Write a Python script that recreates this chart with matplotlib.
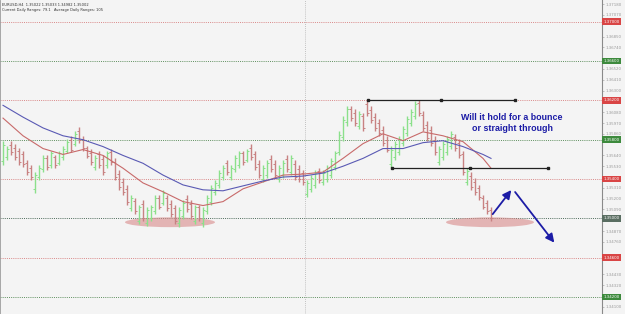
import numpy as np
import matplotlib.pyplot as plt
from matplotlib.patches import Ellipse
from matplotlib.transforms import blended_transform_factory

# ---------------------------------------------------------------------------
# OHLC bars (EURUSD)
highs = [1.3579, 1.3574, 1.3579, 1.3576, 1.3572, 1.3569, 1.3559, 1.3554, 1.3547, 1.3554,
         1.3564, 1.3564, 1.3569, 1.3564, 1.3569, 1.3574, 1.3581, 1.3584, 1.3589, 1.3593,
         1.3584, 1.3574, 1.3571, 1.3564, 1.3569, 1.3564, 1.3569, 1.3571, 1.3561, 1.3549,
         1.3541, 1.3534, 1.3524, 1.3521, 1.3514, 1.3519, 1.3511, 1.3514, 1.3524, 1.3524,
         1.3529, 1.3524, 1.3519, 1.3514, 1.3511, 1.3519, 1.3524, 1.3519, 1.3514, 1.3514,
         1.3511, 1.3524, 1.3534, 1.3539, 1.3549, 1.3554, 1.3559, 1.3554, 1.3564, 1.3569,
         1.3569, 1.3571, 1.3576, 1.3569, 1.3559, 1.3554, 1.3559, 1.3564, 1.3559, 1.3554,
         1.3559, 1.3564, 1.3564, 1.3559, 1.3554, 1.3549, 1.3539, 1.3544, 1.3549, 1.3551,
         1.3549, 1.3554, 1.3561, 1.3569, 1.3589, 1.3604, 1.3614, 1.3614, 1.3611, 1.3609,
         1.3607, 1.3620, 1.3614, 1.3607, 1.3601, 1.3594, 1.3584, 1.3574, 1.3579, 1.3584,
         1.3594, 1.3604, 1.3611, 1.3619, 1.3620, 1.3609, 1.3599, 1.3594, 1.3584, 1.3574,
         1.3579, 1.3584, 1.3589, 1.3586, 1.3581, 1.3569, 1.3551, 1.3547, 1.3541, 1.3534,
         1.3524, 1.3519, 1.3511]
lows = [1.3554, 1.3559, 1.3564, 1.3559, 1.3554, 1.3552, 1.3544, 1.3539, 1.3526, 1.3539,
        1.3547, 1.3549, 1.3551, 1.3551, 1.3554, 1.3559, 1.3566, 1.3567, 1.3574, 1.3577,
        1.3569, 1.3561, 1.3554, 1.3549, 1.3551, 1.3544, 1.3551, 1.3554, 1.3539, 1.3529,
        1.3524, 1.3514, 1.3507, 1.3504, 1.3494, 1.3497, 1.3492, 1.3497, 1.3504, 1.3509,
        1.3514, 1.3507, 1.3501, 1.3494, 1.3491, 1.3499, 1.3506, 1.3499, 1.3494, 1.3497,
        1.3491, 1.3504, 1.3514, 1.3524, 1.3531, 1.3539, 1.3544, 1.3539, 1.3547, 1.3551,
        1.3554, 1.3557, 1.3559, 1.3549, 1.3541, 1.3537, 1.3541, 1.3547, 1.3541, 1.3537,
        1.3541, 1.3547, 1.3544, 1.3539, 1.3537, 1.3534, 1.3522, 1.3527, 1.3531, 1.3536,
        1.3534, 1.3537, 1.3541, 1.3549, 1.3564, 1.3579, 1.3594, 1.3599, 1.3594, 1.3591,
        1.3589, 1.3604, 1.3597, 1.3589, 1.3584, 1.3574, 1.3567, 1.3551, 1.3559, 1.3564,
        1.3574, 1.3584, 1.3594, 1.3601, 1.3604, 1.3589, 1.3579, 1.3574, 1.3564, 1.3554,
        1.3559, 1.3564, 1.3571, 1.3569, 1.3561, 1.3544, 1.3534, 1.3529, 1.3524, 1.3519,
        1.3509, 1.3504, 1.3497]
opens = [1.3558, 1.3562, 1.3575, 1.3572, 1.3568, 1.3565, 1.3556, 1.3551, 1.3530, 1.3542,
         1.3550, 1.3561, 1.3554, 1.3562, 1.3556, 1.3562, 1.3569, 1.3580, 1.3576, 1.3589,
         1.3581, 1.3572, 1.3566, 1.3552, 1.3565, 1.3560, 1.3554, 1.3567, 1.3557, 1.3545,
         1.3537, 1.3530, 1.3510, 1.3518, 1.3497, 1.3515, 1.3495, 1.3500, 1.3507, 1.3521,
         1.3516, 1.3521, 1.3515, 1.3510, 1.3495, 1.3502, 1.3520, 1.3515, 1.3497, 1.3511,
         1.3495, 1.3507, 1.3517, 1.3527, 1.3534, 1.3542, 1.3556, 1.3542, 1.3550, 1.3554,
         1.3566, 1.3559, 1.3572, 1.3565, 1.3555, 1.3540, 1.3544, 1.3560, 1.3555, 1.3540,
         1.3544, 1.3560, 1.3547, 1.3555, 1.3550, 1.3546, 1.3525, 1.3530, 1.3534, 1.3548,
         1.3537, 1.3540, 1.3544, 1.3552, 1.3567, 1.3583, 1.3598, 1.3611, 1.3607, 1.3594,
         1.3604, 1.3616, 1.3610, 1.3603, 1.3597, 1.3590, 1.3580, 1.3555, 1.3562, 1.3567,
         1.3577, 1.3587, 1.3597, 1.3604, 1.3617, 1.3605, 1.3595, 1.3590, 1.3580, 1.3557,
         1.3562, 1.3567, 1.3574, 1.3583, 1.3577, 1.3565, 1.3537, 1.3543, 1.3537, 1.3531,
         1.3521, 1.3516, 1.3508]
closes = [1.3575, 1.3571, 1.3567, 1.3562, 1.3557, 1.3555, 1.3547, 1.3542, 1.3544, 1.3551,
          1.3561, 1.3552, 1.3566, 1.3554, 1.3566, 1.3571, 1.3578, 1.3570, 1.3586, 1.3580,
          1.3572, 1.3563, 1.3557, 1.3561, 1.3554, 1.3547, 1.3566, 1.3557, 1.3542, 1.3532,
          1.3527, 1.3517, 1.3521, 1.3507, 1.3511, 1.3500, 1.3508, 1.3511, 1.3521, 1.3512,
          1.3526, 1.3510, 1.3504, 1.3497, 1.3508, 1.3516, 1.3509, 1.3502, 1.3511, 1.3500,
          1.3508, 1.3521, 1.3531, 1.3536, 1.3546, 1.3551, 1.3547, 1.3551, 1.3561, 1.3566,
          1.3557, 1.3568, 1.3562, 1.3552, 1.3544, 1.3551, 1.3556, 1.3550, 1.3544, 1.3551,
          1.3556, 1.3550, 1.3561, 1.3542, 1.3540, 1.3537, 1.3536, 1.3541, 1.3546, 1.3539,
          1.3546, 1.3551, 1.3558, 1.3566, 1.3585, 1.3600, 1.3611, 1.3602, 1.3597, 1.3606,
          1.3592, 1.3607, 1.3600, 1.3592, 1.3587, 1.3577, 1.3570, 1.3570, 1.3576, 1.3581,
          1.3591, 1.3601, 1.3608, 1.3616, 1.3607, 1.3592, 1.3582, 1.3577, 1.3567, 1.3571,
          1.3576, 1.3581, 1.3586, 1.3572, 1.3564, 1.3547, 1.3548, 1.3532, 1.3527, 1.3522,
          1.3512, 1.3507, 1.3500]

# moving averages, sampled at bar indices
ma_idx = [0, 5, 10, 15, 20, 25, 30, 35, 40, 45, 50, 55, 60, 65, 70, 75, 80, 85, 90, 95,
          100, 105, 110, 115, 120, 122]
ma_fast = [1.3602, 1.3584, 1.3571, 1.3565, 1.3570, 1.3564, 1.3551, 1.3536, 1.3527, 1.3517,
           1.3513, 1.3517, 1.3530, 1.3537, 1.3544, 1.3545, 1.3547, 1.3561, 1.3576, 1.3586,
           1.3579, 1.3588, 1.3584, 1.3578, 1.3561, 1.3551]
ma_slow = [1.3615, 1.3603, 1.3592, 1.3584, 1.3580, 1.3573, 1.3564, 1.3556, 1.3544, 1.3534,
           1.3529, 1.3528, 1.3533, 1.3538, 1.3542, 1.3543, 1.3546, 1.3553, 1.3561, 1.3571,
           1.3571, 1.3577, 1.3579, 1.3573, 1.3565, 1.3561]

# horizontal levels
levels = [1.3700, 1.3660, 1.3620, 1.3580, 1.3540, 1.3500, 1.3460, 1.3420]
level_kind = ["r", "g", "r", "g", "r", "k", "r", "g"]

header = ["EURUSD,H4  1.35022 1.35033 1.34982 1.35002",
          "Current Daily Ranges: 79.1   Average Daily Ranges: 105"]
note = "Will it hold for a bounce\nor straight through"

# ---------------------------------------------------------------------------
BG = "#f4f4f4"
UP = "#8be08b"
DN = "#c88282"
LEVEL_LINE = {"r": "#d98888", "g": "#5e8f5e", "k": "#4d6b5a"}
LEVEL_BOX = {"r": "#d94545", "g": "#3d8a3d", "k": "#5a6e62"}
NAVY = "#1c1ca6"

fig = plt.figure(figsize=(6.25, 3.14), dpi=100, facecolor=BG)
ax = fig.add_axes([0.0, 0.0, 602 / 625, 1.0], facecolor=BG)

n = len(highs)
x = np.arange(n)

# ---------------------------------------------------------------------------
for lv, kind in zip(levels, level_kind):
    ax.axhline(lv, color=LEVEL_LINE[kind], lw=0.7, ls=(0, (1, 1.2)), zorder=1)
ax.axvline(75.5, color="#b0b0b0", lw=0.6, ls=(0, (1, 1.5)), zorder=1)

# bars
for i in range(n):
    c = UP if closes[i] >= opens[i] else DN
    ax.vlines(x[i], lows[i], highs[i], color=c, lw=1.0, zorder=3)
    ax.hlines(opens[i], x[i] - 0.45, x[i], color=c, lw=0.7, zorder=3)
    ax.hlines(closes[i], x[i], x[i] + 0.45, color=c, lw=0.7, zorder=3)

ax.plot(ma_idx, ma_fast, color="#c86a6a", lw=0.8, zorder=4)
ax.plot(ma_idx, ma_slow, color="#5a5ab4", lw=0.8, zorder=4)

# support zones
for cx, w in [(41.75, 22.5), (121.75, 22.0)]:
    ax.add_patch(Ellipse((cx, 1.3496), w, 0.0010, facecolor="#d98a8a",
                         edgecolor="none", alpha=0.6, zorder=2))

# resistance / support segments
top = highs[91]
bot = lows[97]
for y, x0, x1, xm in [(top, 91.25, 128.0, 109.5), (bot, 97.25, 136.25, 116.75)]:
    ax.plot([x0, x1], [y, y], color="#222222", lw=0.9, zorder=5)
    ax.plot([x0, xm, x1], [y, y, y], ls="none", marker="s", ms=1.6, color="#222222", zorder=5)

# arrows
ax.annotate("", xy=(127.5, 1.3531), xytext=(122.0, 1.3502),
            arrowprops=dict(arrowstyle="-|>,head_length=0.5,head_width=0.25",
                            color=NAVY, lw=1.3), zorder=6)
ax.annotate("", xy=(138.25, 1.3473), xytext=(127.6, 1.3529),
            arrowprops=dict(arrowstyle="-|>,head_length=0.5,head_width=0.25",
                            color=NAVY, lw=1.3), zorder=6)

ax.text(127.25, 1.3597, note, color=NAVY, fontsize=6.4, fontweight="bold",
        family="Liberation Sans", ha="center", va="center", linespacing=1.15, zorder=6)

# header
for k, line in enumerate(header):
    ax.text(0.003, 0.992 - k * 0.017, line, transform=ax.transAxes, fontsize=2.6,
            color="#333333", va="top", ha="left")

# ---------------------------------------------------------------------------
ax.set_xlim(-0.75, 149.75)
ax.set_ylim(1.34026, 1.37222)

for s in ["top", "bottom"]:
    ax.spines[s].set_visible(False)
ax.spines["left"].set_color("#9a9a9a")
ax.spines["left"].set_linewidth(0.6)
ax.spines["right"].set_color("#8a8a8a")
ax.spines["right"].set_linewidth(0.8)

ax.set_xticks([])
ax.yaxis.tick_right()
ticks = [t for t in np.arange(1.3410, 1.3725, 0.0011)
         if min(abs(t - lv) for lv in levels) > 0.0006]
ax.set_yticks(ticks)
ax.yaxis.set_major_formatter(plt.FuncFormatter(lambda v, p: f"{v:.5f}"))
ax.tick_params(axis="y", labelsize=2.8, colors="#999999", length=1.5, width=0.4, pad=1)

tr = blended_transform_factory(ax.transAxes, ax.transData)
for lv, kind in zip(levels, level_kind):
    ax.text(1.003, lv, f"{lv:.5f}", transform=tr, fontsize=2.8, color="white",
            va="center", ha="left", clip_on=False, zorder=7,
            bbox=dict(boxstyle="square,pad=0.35", facecolor=LEVEL_BOX[kind],
                      edgecolor="none"))

fig.savefig("out.png", dpi=100, facecolor=BG)
